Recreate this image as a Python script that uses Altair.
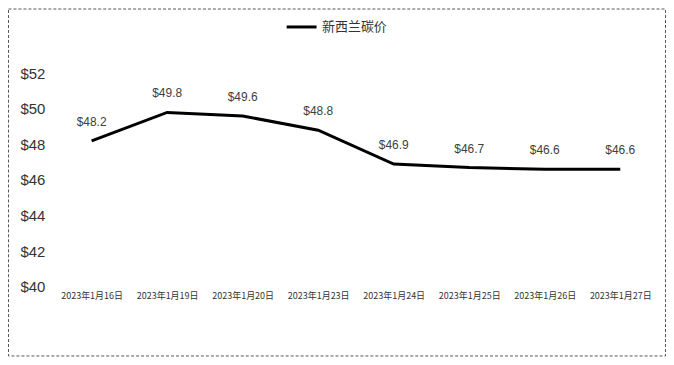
import altair as alt
import pandas as pd

dates = ["2023年1月16日", "2023年1月19日", "2023年1月20日", "2023年1月23日",
         "2023年1月24日", "2023年1月25日", "2023年1月26日", "2023年1月27日"]
prices = [48.2, 49.8, 49.6, 48.8, 46.9, 46.7, 46.6, 46.6]
series_name = "新西兰碳价"
y_ticks = [40, 42, 44, 46, 48, 50, 52]

df = pd.DataFrame({"date": dates, "price": prices, "series": [series_name] * len(dates)})
df["label"] = ["$" + f"{p:.1f}" for p in prices]

FONT = "Noto Sans CJK SC"
W, H = 606, 214

x_enc = alt.X("date:N", sort=None,
              scale=alt.Scale(type="point", padding=0.5),
              axis=alt.Axis(title=None, labelAngle=0, ticks=False, domain=False,
                            labelFontSize=9, labelColor="#333333", labelPadding=5,
                            labelFont=FONT))
y_enc = alt.Y("price:Q",
              scale=alt.Scale(domain=[40, 52], nice=False, zero=False),
              axis=alt.Axis(title=None, values=y_ticks, tickCount=7,
                            labelExpr="'$' + datum.value", grid=False, ticks=False,
                            domain=False, labelFontSize=15, labelColor="#333333",
                            labelPadding=9, labelFont="Liberation Sans",
                            labelOverlap=False))

line = alt.Chart(df).mark_line(strokeWidth=3, color="black").encode(
    x=x_enc, y=y_enc,
    color=alt.Color("series:N", scale=alt.Scale(range=["black"]),
                    legend=alt.Legend(title=None, orient="none", legendX=232, legendY=-63,
                                      symbolType="stroke", symbolSize=900,
                                      symbolStrokeWidth=3, labelFontSize=13,
                                      labelColor="#333333", labelFont=FONT))
)

labels = alt.Chart(df).mark_text(dy=-19, fontSize=12, color="#404040", font="Liberation Sans").encode(
    x=x_enc, y=y_enc, text="label:N"
)

border = alt.Chart(pd.DataFrame({"a": [0]})).mark_rect(
    fill=None, stroke="#555555", strokeWidth=1, strokeDash=[3, 2], clip=False
).encode(x=alt.value(-45.5), x2=alt.value(613.5), y=alt.value(-64.5), y2=alt.value(283.5))

chart = alt.layer(border, line, labels).properties(
    width=W, height=H,
    autosize=alt.AutoSizeParams(type="none"),
    padding={"left": 46, "top": 65, "right": 8, "bottom": 70},
).configure(background="white").configure_view(stroke=None, strokeWidth=0)

chart.save("out.html", embed_options={"renderer": "svg", "actions": False})
